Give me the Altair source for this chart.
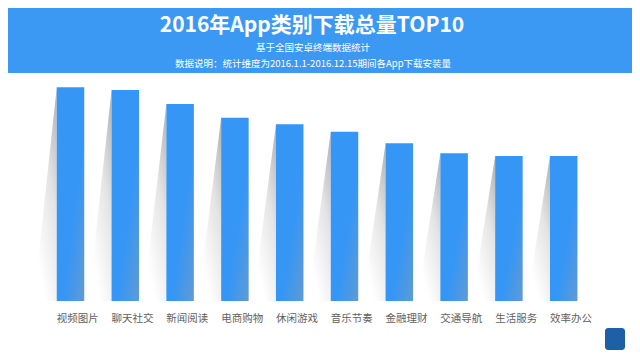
import altair as alt
import pandas as pd

categories = ["视频图片", "聊天社交", "新闻阅读", "电商购物", "休闲游戏",
              "音乐节奏", "金融理财", "交通导航", "生活服务", "效率办公"]
values = [100.0, 98.7, 92.2, 85.8, 82.7, 79.2, 73.8, 69.1, 67.9, 67.9]

title_text = "2016年App类别下载总量TOP10"
subtitle_1 = "基于全国安卓终端数据统计"
subtitle_2 = "数据说明：统计维度为2016.1.1-2016.12.15期间各App下载安装量"

W, H = 624, 344
FONT = "Noto Sans CJK SC"

df = pd.DataFrame({"cat": categories, "value": values, "idx": list(range(len(categories)))})

# two corner rows per category for the shadow triangle (side 0 = foot, side 1 = apex)
shadow_df = pd.DataFrame({
    "cat": [c for c in categories for _ in (0, 1)],
    "value": [v for v in values for _ in (0, 1)],
    "idx": [i for i in range(len(categories)) for _ in (0, 1)],
    "side": [s for _ in categories for s in (0, 1)],
})

xscale = alt.Scale(domain=[-1.1405, 10.246], nice=False, zero=False)
yscale = alt.Scale(domain=[-23.87, 137.1], nice=False, zero=False)

half = 0.251
shadow_w = 0.42

shadow = alt.Chart(shadow_df).transform_calculate(
    sx=f"datum.side == 0 ? datum.idx - {half} - {shadow_w} : datum.idx - {half}",
    sy="datum.side == 0 ? 0 : datum.value",
    zero="0"
).mark_area(
    interpolate="linear",
    opacity=1,
    color=alt.Gradient(
        gradient="linear",
        stops=[alt.GradientStop(color="#b0b0b0", offset=0),
               alt.GradientStop(color="#e4e4e4", offset=0.45),
               alt.GradientStop(color="#ffffff", offset=0.95)],
        x1=1, y1=0, x2=0.4, y2=1),
).encode(
    x=alt.X("sx:Q", scale=xscale, axis=None),
    y=alt.Y("sy:Q", scale=yscale, axis=None, stack=None),
    y2="zero:Q",
    detail="cat:N",
)

bars = alt.Chart(df).transform_calculate(
    x0=f"datum.idx - {half}",
    x1=f"datum.idx + {half}",
    zero="0"
).mark_bar(
    color=alt.Gradient(
        gradient="linear",
        stops=[alt.GradientStop(color="#3596f6", offset=0),
               alt.GradientStop(color="#3596f6", offset=0.6),
               alt.GradientStop(color="#5f9bd3", offset=1)],
        x1=0, y1=0, x2=1, y2=1),
).encode(
    x=alt.X("x0:Q", scale=xscale, axis=None),
    x2="x1:Q",
    y=alt.Y("value:Q", scale=yscale, axis=None),
    y2="zero:Q",
)

labels = alt.Chart(df).transform_calculate(
    lx=f"datum.idx - {half}"
).mark_text(
    font=FONT, fontSize=10.5, color="#5f5f5f", baseline="middle", align="left"
).encode(
    x=alt.X("lx:Q", scale=xscale, axis=None),
    y=alt.value(311),
    text="cat:N",
)

one = alt.Data(values=[{"k": 1}])

band = alt.Chart(one).mark_rect(color="#3b99f4").encode(
    x=alt.value(0), x2=alt.value(W), y=alt.value(0), y2=alt.value(65)
)

title = alt.Chart(one).mark_text(
    text=title_text, font=FONT, fontSize=21, fontWeight="bold", color="white",
    align="center", baseline="middle"
).encode(x=alt.value(304), y=alt.value(18))

sub1 = alt.Chart(one).mark_text(
    text=subtitle_1, font=FONT, fontSize=9.5, color="white",
    align="center", baseline="middle"
).encode(x=alt.value(305), y=alt.value(40))

sub2 = alt.Chart(one).mark_text(
    text=subtitle_2, font=FONT, fontSize=9.5, color="white",
    align="center", baseline="middle"
).encode(x=alt.value(305), y=alt.value(56))

logo = alt.Chart(one).mark_rect(color="#1f5fa8", cornerRadius=3).encode(
    x=alt.value(597), x2=alt.value(617), y=alt.value(320), y2=alt.value(342)
)

chart = alt.layer(shadow, bars, labels, band, title, sub1, sub2, logo).properties(
    width=W, height=H, padding=0, autosize="none", background="white"
).configure_view(stroke=None)

chart.save("out.html", embed_options={"renderer": "svg", "actions": False})
